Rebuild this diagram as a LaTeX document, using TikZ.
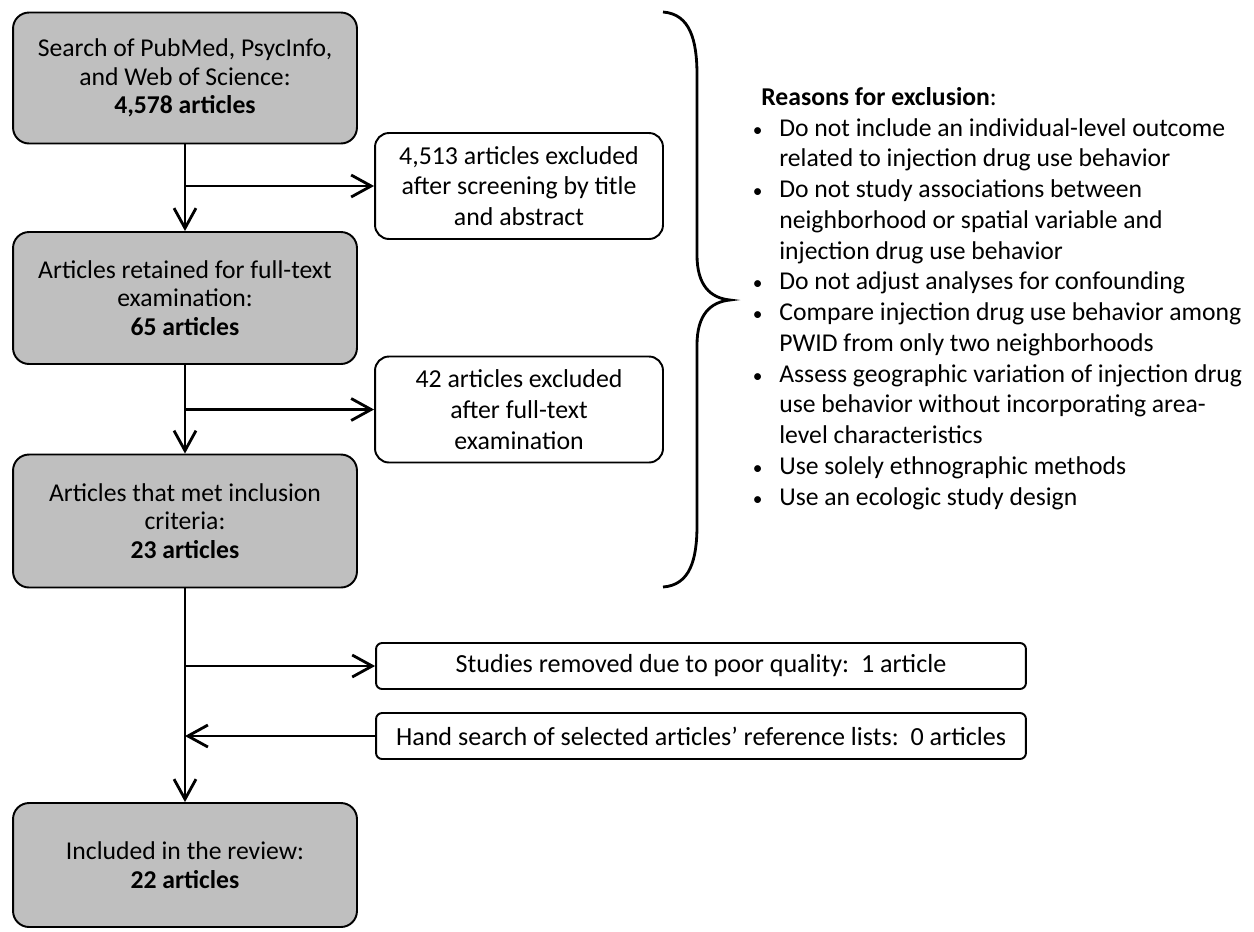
\documentclass[tikz,border=0pt]{standalone}
\usepackage{fontspec}
\setmainfont{Carlito}
\usetikzlibrary{arrows.meta,positioning,calc}
\definecolor{ink}{HTML}{000000}
\definecolor{boxgray}{HTML}{BFBFBF}
\newcommand{\bul}{\makebox[0.56cm][l]{\hspace{0.03cm}{\fontsize{11}{11}\selectfont\textbullet}}}
\newcommand{\ind}{\makebox[0.56cm][l]{}}

\begin{document}
\begin{tikzpicture}[x=0.02cm, y=-0.02cm,
  stage/.style={draw=ink, line width=1.1pt, fill=boxgray, rounded corners=0.32cm, minimum width=6.88cm, align=center, font=\fontsize{14.6}{16.2}\selectfont, inner sep=0pt},
  excl/.style={draw=ink, line width=1.1pt, fill=white, rounded corners=0.28cm, minimum width=5.76cm, minimum height=2.12cm, align=center, font=\fontsize{14.7}{17.5}\selectfont, inner sep=0pt},
  note/.style={draw=ink, line width=1.1pt, fill=white, rounded corners=0.12cm, minimum width=13cm, minimum height=0.92cm, font=\fontsize{14.85}{17.5}\selectfont, inner sep=0pt},
  flow/.style={line width=1.6pt, -{Straight Barb[length=0.4cm,width=0.44cm]}},
  reasons/.style={align=left, anchor=north west, inner sep=0pt, font=\fontsize{14.6}{17.5}\selectfont},
]
\useasboundingbox (0,0) rectangle (1254,931);
\node[stage, minimum height=2.62cm] (search) at (185,78) {Search of PubMed, PsycInfo,\\and Web of Science:\\\textbf{4,578 articles}};
\node[stage, minimum height=2.64cm] (retained) at (185,298) {Articles retained for full-text\\examination:\\\textbf{65 articles}};
\node[stage, minimum height=2.66cm] (met) at (185,521) {Articles that met inclusion\\criteria:\\\textbf{23 articles}};
\node[stage, minimum height=2.48cm] (included) at (185,865) {Included in the review:\\\textbf{22 articles}};
\node[excl] (screen) at (519,186) {4,513 articles excluded\\after screening by title\\and abstract};
\node[excl] (fulltext) at (519,409.5) {42 articles excluded\\after full-text\\examination};
\node[note] (quality) at (701,666) {Studies removed due to poor quality:\ \ 1 article};
\node[note] (hand) at (701,736) {Hand search of selected articles’ reference lists:\ \ 0 articles};
\draw[flow] (search) -- (retained);
\draw[flow] (search.south |- screen.west) -- (screen.west);
\draw[flow] (retained) -- (met);
\draw[flow] (retained.south |- fulltext.west) -- (fulltext.west);
\draw[flow] (met) -- (included);
\draw[flow] (met.south |- quality.west) -- (quality.west);
\draw[flow] (hand.west) -- (met.south |- hand.west);
\draw[line width=1.6pt] (663,12) .. controls (690,14) and (697,40) .. (697,75) -- (697,255)
  .. controls (697,285) and (710,298) .. (730,300)
  .. controls (710,302) and (697,315) .. (697,345) -- (697,525)
  .. controls (697,560) and (690,585) .. (663,587);
\node[reasons] (why) at (751,87) {\hspace*{0.2cm}\textbf{Reasons for exclusion}:\\
\bul Do not include an individual-level outcome\\
\ind related to injection drug use behavior\\
\bul Do not study associations between\\
\ind neighborhood or spatial variable and\\
\ind injection drug use behavior\\
\bul Do not adjust analyses for confounding\\
\bul Compare injection drug use behavior among\\
\ind PWID from only two neighborhoods\\
\bul Assess geographic variation of injection drug\\
\ind use behavior without incorporating area-\\
\ind level characteristics\\
\bul Use solely ethnographic methods\\
\bul Use an ecologic study design};
\end{tikzpicture}
\end{document}
